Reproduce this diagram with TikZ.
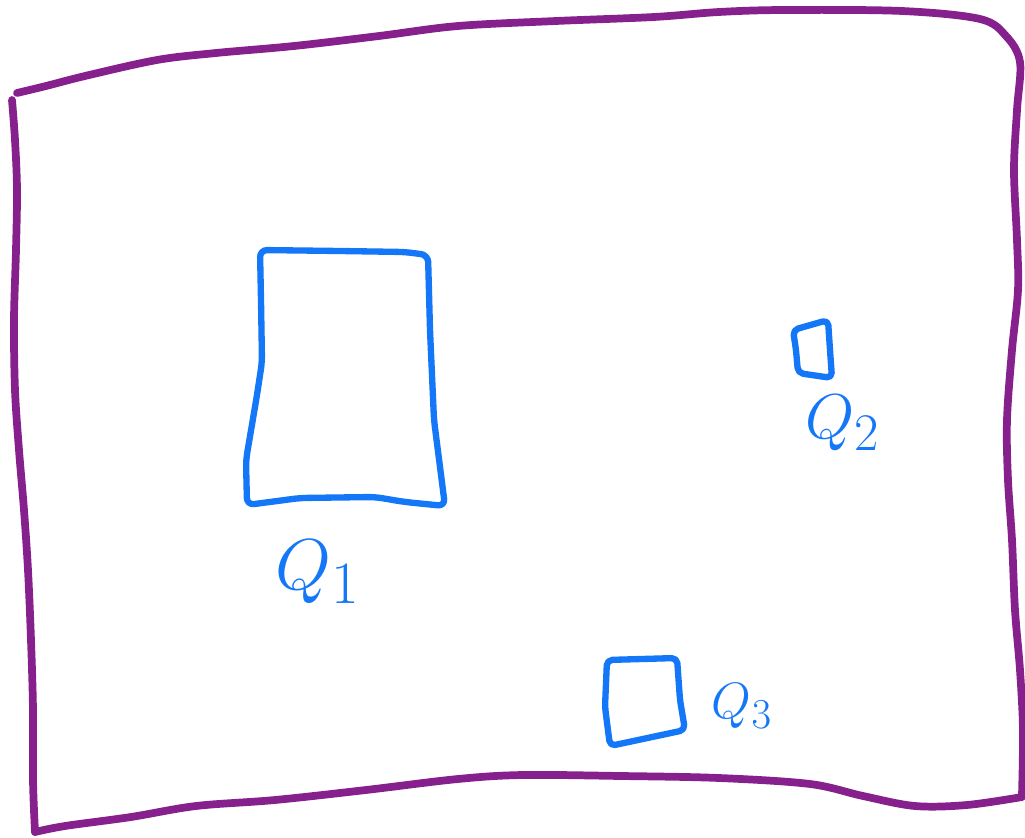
\documentclass[tikz,border=0pt]{standalone}
\definecolor{rim}{HTML}{86208C}
\definecolor{ink}{HTML}{1477F8}
\usepackage{tikz}
\usetikzlibrary{calc, positioning}

\begin{document}
\begin{tikzpicture}[
  x=0.02cm, y=-0.02cm,
  border/.style={draw=rim, line width=4.4pt, line cap=round, line join=round},
  patch/.style={draw=ink, line width=3.6pt, line cap=round, line join=round, rounded corners=4pt},
  tag/.style={text=ink, inner sep=0pt, anchor=center, font=\Huge, transform shape},
]
\useasboundingbox (0,0) rectangle (1025,838);

% outer region, top and right side
\draw[border] plot[smooth, tension=0.55] coordinates {
  (17,93) (46,86) (85,76) (157,60) (216,53) (294,46) (379,36) (458,26)
  (556,21) (654,17) (719,12) (784,10) (902,11) (980,19) (1006,36)
  (1020,62) (1017,110) (1014,170) (1017,240) (1018,290) (1012,350)
  (1007,420) (1008,480) (1012,540) (1015,610) (1020,670) (1023,730) (1022,795)};
% bottom
\draw[border] plot[smooth, tension=0.55] coordinates {
  (1022,797) (967,805) (915,806) (863,796) (810,784) (719,778) (621,776)
  (523,775) (458,779) (366,790) (275,800) (196,806) (131,817) (65,826) (35,832)};
% left side
\draw[border] plot[smooth, tension=0.55] coordinates {
  (35,832) (33,780) (33,710) (31,640) (28,570) (24,510) (19,450)
  (15,390) (14,320) (16,250) (17,190) (15,140) (12,100)};

% Q1
\draw[patch] (260,250) -- (340,251) -- (405,252) -- (428,255) -- (430,330)
  -- (434,420) -- (445,506) -- (405,502) -- (375,497) -- (300,498)
  -- (247,505) -- (246,460) -- (257,395) -- (262,362) -- (261,300) -- cycle;
\node[tag, scale=1.65] (q1lbl) at (318,572) {$Q_{1}$};

% Q2
\draw[patch, rounded corners=3pt] (793,330) -- (828,320) -- (830,350) -- (832,378)
  -- (798,373) -- (796,350) -- cycle;
\node[tag, scale=1.45] (q2lbl) at (843,423) {$Q_{2}$};

% Q3
\draw[patch, rounded corners=3pt] (607,660) -- (677,658) -- (680,700) -- (685,730)
  -- (610,746) -- (605,707) -- cycle;
\node[tag, scale=1.17] (q3lbl) at (742,706) {$Q_{3}$};
\end{tikzpicture}
\end{document}
